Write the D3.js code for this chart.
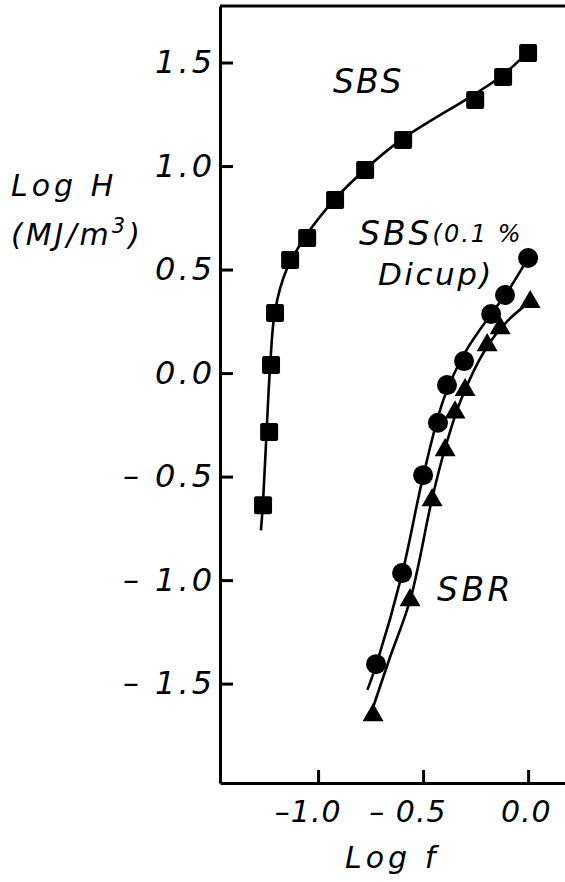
<!DOCTYPE html>
<html>
<head>
<meta charset="utf-8">
<script src="https://cdn.jsdelivr.net/npm/d3@7"></script>
<style>
  body { margin: 0; background: #fff; }
  text { font-family: "DejaVu Sans", sans-serif; font-style: italic; fill: #000; }
</style>
</head>
<body>
<svg width="565" height="882"></svg>
<script>
// log f and log H
var sbsF = [0.0, -0.119, -0.252, -0.595, -0.776, -0.919, -1.052, -1.133, -1.205, -1.224, -1.233, -1.262];
var sbsH = [1.546, 1.43, 1.319, 1.126, 0.981, 0.836, 0.652, 0.546, 0.29, 0.039, -0.285, -0.638];

var dicupF = [0.0, -0.11, -0.176, -0.305, -0.386, -0.429, -0.5, -0.6, -0.724];
var dicupH = [0.556, 0.377, 0.285, 0.058, -0.058, -0.24, -0.493, -0.966, -1.406];

var sbrF = [0.01, -0.133, -0.195, -0.3, -0.348, -0.395, -0.457, -0.562, -0.738];
var sbrH = [0.343, 0.217, 0.135, -0.082, -0.19, -0.372, -0.614, -1.097, -1.652];

// the drawn (fitted) curves
var sbsFitF = [-1.272, -1.262, -1.245, -1.228, -1.205, -1.15, -1.06, -0.92, -0.78, -0.60, -0.25, -0.12, 0.0];
var sbsFitH = [-0.76, -0.62, -0.28, 0.04, 0.30, 0.50, 0.66, 0.84, 0.98, 1.13, 1.35, 1.44, 1.55];
var dicupFitF = [-0.765, -0.72, -0.60, -0.50, -0.40, -0.30, -0.18, -0.10, 0.0];
var dicupFitH = [-1.53, -1.40, -0.97, -0.50, -0.12, 0.10, 0.28, 0.39, 0.555];
var sbrFitF = [-0.74, -0.66, -0.56, -0.46, -0.40, -0.32, -0.20, -0.10, 0.01];
var sbrFitH = [-1.62, -1.38, -1.09, -0.62, -0.38, -0.13, 0.12, 0.25, 0.345];

var yTicks = [-1.5, -1.0, -0.5, 0.0, 0.5, 1.0, 1.5];
var yTickLabels = ["\u2013 1.5", "\u2013 1.0", "\u2013 0.5", "0.0", "0.5", "1.0", "1.5"];
var xTicks = [-1.0, -0.5, 0.0];
var xTickLabels = ["\u20131.0", "\u2013 0.5", "0.0"];

var svg = d3.select('svg');

var plotLeft = 220, plotTop = 6, plotBottom = 783, plotRight = 568;

var ScaleX = d3.scaleLinear().domain([-1.467, 0.190]).range([plotLeft, plotRight]);
var ScaleY = d3.scaleLinear().domain([-1.98, 1.773]).range([plotBottom, plotTop]);

function pairs(a, b) {
    return a.map(function(d, i) { return [d, b[i]]; });
}

// frame: left axis, bottom axis and top line
svg.append('line')
    .attr('x1', plotLeft).attr('x2', plotRight).attr('y1', plotTop).attr('y2', plotTop)
    .attr('stroke', '#000').attr('stroke-width', 3);

var yAxis = svg.append('g')
    .attr('transform', 'translate(' + plotLeft + ',0)')
    .call(d3.axisLeft(ScaleY).tickValues(yTicks)
        .tickSizeInner(-13).tickSizeOuter(0).tickPadding(8)
        .tickFormat(function(d, i) { return yTickLabels[i]; }));

var xAxis = svg.append('g')
    .attr('transform', 'translate(0,' + plotBottom + ')')
    .call(d3.axisBottom(ScaleX).tickValues(xTicks)
        .tickSizeInner(-13).tickSizeOuter(0).tickPadding(18)
        .tickFormat(function(d, i) { return xTickLabels[i]; }));

svg.selectAll('.domain').attr('stroke', '#000').attr('stroke-width', 3);
svg.selectAll('.tick line').attr('stroke', '#000').attr('stroke-width', 3);
svg.selectAll('.tick text')
    .style('font-family', '"DejaVu Sans", sans-serif')
    .style('font-style', 'italic');
yAxis.selectAll('.tick text').style('font-size', '32px').style('letter-spacing', '3px').attr('dx', 3);
xAxis.selectAll('.tick text').style('font-size', '30px').style('letter-spacing', '1px')
    .attr('text-anchor', 'end').attr('dx', 23);

// curves
var line = d3.line()
    .x(function(d) { return ScaleX(d[0]); })
    .y(function(d) { return ScaleY(d[1]); })
    .curve(d3.curveCatmullRom);

[pairs(sbsFitF, sbsFitH), pairs(dicupFitF, dicupFitH), pairs(sbrFitF, sbrFitH)].forEach(function(c) {
    svg.append('path')
        .attr('d', line(c))
        .attr('fill', 'none')
        .attr('stroke', '#000')
        .attr('stroke-width', 2.6);
});

// markers
svg.selectAll('.sq')
    .data(pairs(sbsF, sbsH))
    .enter()
    .append('rect')
    .attr('class', 'sq')
    .attr('x', function(d) { return ScaleX(d[0]) - 9; })
    .attr('y', function(d) { return ScaleY(d[1]) - 9; })
    .attr('width', 18).attr('height', 18)
    .attr('rx', 2)
    .attr('fill', '#000');

svg.selectAll('.dot')
    .data(pairs(dicupF, dicupH))
    .enter()
    .append('circle')
    .attr('class', 'dot')
    .attr('cx', function(d) { return ScaleX(d[0]); })
    .attr('cy', function(d) { return ScaleY(d[1]); })
    .attr('r', 10)
    .attr('fill', '#000');

svg.selectAll('.tri')
    .data(pairs(sbrF, sbrH))
    .enter()
    .append('path')
    .attr('class', 'tri')
    .attr('d', d3.symbol().type(d3.symbolTriangle).size(190))
    .attr('transform', function(d) { return 'translate(' + ScaleX(d[0]) + ',' + ScaleY(d[1]) + ')'; })
    .attr('fill', '#000');

// labels
svg.append('text').text('SBS')
    .attr('x', 333).attr('y', 93)
    .style('font-size', '33px').style('letter-spacing', '2px');

var lab = svg.append('text').attr('x', 359).attr('y', 245)
    .style('font-size', '33px');
lab.append('tspan').text('SBS').style('letter-spacing', '3px');
lab.append('tspan').text('(0.1 %').style('font-size', '24px').style('letter-spacing', '2px').attr('dy', -3);

svg.append('text').text('Dicup)')
    .attr('x', 378).attr('y', 285)
    .style('font-size', '31px').style('letter-spacing', '2.5px');

svg.append('text').text('SBR')
    .attr('x', 437).attr('y', 601)
    .style('font-size', '33px').style('letter-spacing', '3.5px');

svg.append('text').text('Log H')
    .attr('x', 11).attr('y', 196)
    .style('font-size', '30px').style('letter-spacing', '4px');

var unit = svg.append('text').attr('x', 11).attr('y', 245)
    .style('font-size', '30px').style('letter-spacing', '3px');
unit.append('tspan').text('(MJ/m');
unit.append('tspan').text('3').style('font-size', '21px').attr('dy', -12);
unit.append('tspan').text(')').attr('dy', 12);

svg.append('text').text('Log f')
    .attr('x', 345).attr('y', 868)
    .style('font-size', '30px').style('letter-spacing', '4px');
</script>
</body>
</html>
